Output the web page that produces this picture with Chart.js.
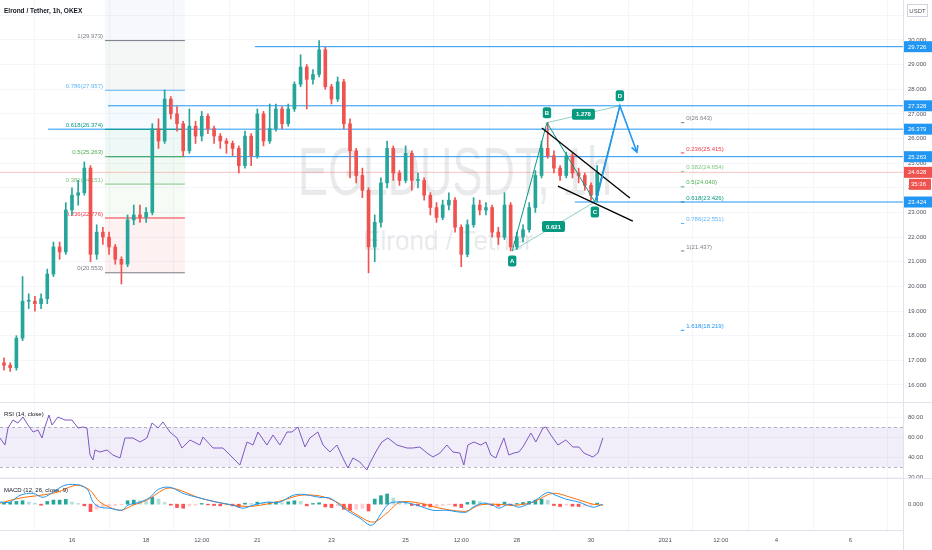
<!DOCTYPE html>
<html>
<head>
<meta charset="utf-8">
<script src="https://cdn.jsdelivr.net/npm/chart.js@4.4.1/dist/chart.umd.min.js"></script>
<style>
  html, body { margin: 0; padding: 0; background: #fff; }
  #wrap { width: 932px; height: 550px; }
</style>
</head>
<body>
<div id="wrap"><canvas id="chart" width="932" height="550"></canvas></div>
<script>
// time axis is in hours counted from 16 Dec 00:00
const tickHours = [0, 48, 84, 120, 168, 216, 252, 288, 336, 384, 420, 456, 504];
const tickLabels = ["16", "18", "12:00", "21", "23", "25", "12:00", "28", "30", "2021", "12:00", "4", "6"];

// 4h candles
const candleStart = -44;
const candleStep = 4;
const firstOpen = 16.9;
const closes = [16.8, 16.7, 17.9, 19.4, 19.4, 19.3, 19.5, 20.5, 21.6, 21.4,
  23.1, 23.7, 23.8, 24.8, 21.3, 22.2, 22.0, 21.6, 21.1, 20.9,
  22.7, 22.9, 22.8, 23.0, 26.4, 25.9, 27.6, 27.0, 26.6, 25.5,
  26.5, 26.1, 26.9, 26.4, 26.1, 25.9, 25.8, 25.6, 24.9, 26.1,
  25.3, 27.0, 25.9, 26.4, 27.2, 26.6, 27.2, 28.2, 28.9, 28.4,
  28.6, 29.6, 28.1, 27.6, 28.3, 26.6, 25.5, 24.5, 23.9, 21.6,
  22.6, 24.2, 25.6, 24.6, 24.3, 25.4, 24.3, 24.3, 23.7, 23.2,
  22.8, 23.3, 23.5, 22.4, 21.3, 22.5, 23.3, 23.1, 23.2, 22.2,
  22.0, 23.3, 21.6, 22.0, 22.3, 23.2, 24.5, 25.6, 25.3, 24.8,
  24.5, 25.3, 24.6, 24.5, 24.1, 23.7, 24.628];
const highs = [17.1, 16.9, 18.0, 20.4, 19.7, 19.6, 19.7, 20.7, 21.8, 21.8,
  23.4, 24.0, 24.3, 25.05, 24.9, 22.5, 22.4, 22.2, 21.7, 21.2,
  22.9, 23.3, 23.3, 23.2, 26.6, 26.8, 27.97, 27.7, 27.3, 26.7,
  27.2, 26.7, 27.1, 27.0, 26.5, 26.2, 26.0, 25.9, 25.7, 26.3,
  26.2, 27.2, 27.1, 27.4, 27.4, 27.3, 27.4, 28.3, 29.4, 29.0,
  28.8, 29.973, 29.7, 28.2, 28.5, 28.4, 26.8, 25.6, 24.8, 24.0,
  22.9, 24.4, 25.9, 25.7, 24.7, 25.7, 25.5, 24.6, 24.4, 23.8,
  23.4, 23.5, 23.8, 23.6, 22.5, 22.7, 23.6, 23.5, 23.4, 23.3,
  22.4, 23.8, 23.4, 22.2, 22.5, 23.4, 24.7, 25.9, 26.643, 25.5,
  24.9, 25.45, 25.4, 24.8, 24.6, 24.2, 24.9];
const lows = [16.6, 16.55, 16.6, 17.8, 19.1, 19.0, 19.1, 19.3, 20.4, 21.1,
  21.3, 22.9, 23.3, 23.7, 21.0, 21.1, 21.7, 21.3, 20.9, 20.1,
  20.8, 22.5, 22.6, 22.6, 22.9, 25.6, 25.8, 26.8, 26.3, 25.3,
  25.4, 25.8, 25.9, 26.2, 25.8, 25.6, 25.4, 25.3, 24.6, 24.8,
  24.9, 25.2, 25.7, 25.8, 26.3, 26.4, 26.5, 27.1, 28.1, 27.2,
  28.2, 28.5, 28.0, 27.4, 27.5, 26.4, 24.4, 24.2, 23.6, 20.55,
  21.0, 22.4, 24.0, 24.3, 24.1, 24.2, 23.9, 24.0, 23.5, 22.9,
  22.6, 22.7, 23.1, 22.2, 20.8, 21.2, 22.4, 22.9, 22.9, 22.0,
  21.7, 21.9, 21.44, 21.5, 21.8, 22.2, 23.0, 24.4, 25.2, 24.6,
  24.3, 24.4, 24.4, 24.2, 23.9, 23.5, 23.426];

// RSI (14, close)
const rsiHours = [-46.6, -43.4, -41.4, -38.2, -35.0, -31.7, -28.5, -25.2, -22.0, -19.4,
  -17.5, -14.9, -12.9, -9.1, -4.5, 0, 3.9, 7.1, 9.7, 11.7,
  13.6, 14.9, 18.1, 22.7, 26.5, 31.1, 34.3, 39.5, 44.0, 48.5,
  51.8, 55.7, 58.9, 63.4, 68.0, 71.2, 76.4, 82.8, 84.8, 91.3,
  97.7, 102.3, 108.7, 113.3, 117.2, 120.4, 126.2, 130.1, 134.6, 139.2,
  142.4, 146.3, 150.8, 154.0, 159.2, 162.5, 167.0, 171.5, 175.4, 178.6,
  181.9, 186.4, 190.9, 192.9, 197.4, 200.6, 204.5, 210.4, 216.8, 220.7,
  225.2, 229.8, 233.7, 238.2, 242.7, 246.6, 251.1, 253.7, 256.3, 260.2,
  264.7, 268.0, 271.2, 274.4, 276.4, 279.6, 282.8, 286.1, 289.3, 291.9,
  297.1, 300.3, 304.9, 306.8, 310.0, 314.6, 319.7, 324.3, 328.2, 331.4,
  337.2, 340.5, 343.7];
const rsiValues = [59, 52, 69, 77, 74, 80, 72, 65, 67, 59,
  70, 82, 72, 80, 77, 77, 69, 70, 69, 42,
  37, 47, 45, 47, 42, 39, 59, 59, 55, 59,
  74, 69, 75, 65, 59, 49, 57, 52, 60, 49,
  49, 42, 32, 55, 52, 65, 52, 62, 52, 65,
  65, 70, 50, 59, 65, 52, 45, 52, 39, 29,
  39, 35, 27, 34, 47, 55, 59, 52, 49, 49,
  50, 44, 40, 44, 52, 45, 44, 32, 52, 55,
  52, 55, 42, 39, 47, 59, 42, 44, 45, 50,
  64, 55, 69, 70, 62, 52, 57, 50, 50, 44,
  40, 44, 59];
const rsiBand = [70, 30];

// MACD (12, 26, close, 9)
const macdHours = [-46.6, -40.1, -33.7, -25.2, -18.8, -12.3, -4.5, 5.2, 10.4, 13.6,
  18.1, 24.6, 32.4, 36.2, 44.0, 50.5, 55.0, 60.2, 65.4, 71.8,
  82.8, 93.9, 104.2, 110.7, 117.2, 126.2, 134.6, 143.0, 149.5, 160.5,
  167.0, 173.5, 179.9, 186.4, 192.9, 196.1, 200.6, 205.8, 214.2, 223.3,
  233.7, 242.7, 255.0, 259.5, 266.0, 272.5, 276.4, 282.8, 289.3, 295.1,
  300.3, 308.1, 313.3, 319.7, 328.2, 337.2, 343.7];
const macdValues = [0.06, 0.06, 0.26, 0.32, 0.2, 0.35, 0.56, 0.56, 0.41, 0.06,
  -0.09, -0.12, -0.18, -0.03, 0.06, 0.2, 0.41, 0.5, 0.47, 0.32,
  0.18, 0.06, -0.03, -0.12, -0.03, 0.06, 0.06, 0.26, 0.29, 0.2,
  0.18, -0.03, -0.24, -0.41, -0.62, -0.56, -0.24, 0.03, 0.06, -0.03,
  -0.18, -0.18, -0.24, -0.09, 0.03, -0.03, -0.12, 0, -0.09, 0,
  0.12, 0.35, 0.26, 0.15, 0.06, -0.09, 0];
const signalHours = [-46.6, -33.7, -20.7, -9.7, 3.2, 11.7, 18.1, 31.1, 39.5, 48.5,
  61.5, 69.9, 82.8, 104.2, 117.2, 134.6, 147.6, 160.5, 171.5, 181.9,
  194.8, 203.9, 212.3, 225.2, 238.2, 255.0, 263.4, 272.5, 287.4, 298.4,
  311.3, 324.3, 337.2, 343.7];
const signalValues = [0.03, 0.18, 0.26, 0.35, 0.56, 0.41, 0.06, -0.18, -0.03, 0.12,
  0.47, 0.41, 0.18, -0.03, -0.06, 0.09, 0.26, 0.24, 0.06, -0.24,
  -0.53, -0.26, 0.06, 0.03, -0.12, -0.21, -0.03, 0, -0.03, 0.06,
  0.32, 0.18, 0, -0.03];
// histogram, one bar per candle
const histValues = [0.03, 0.05, 0.08, 0.1, 0.06, 0.03, -0.03, 0.08, 0.12, 0.12,
  0.14, 0.06, 0.02, -0.05, -0.22, -0.15, -0.08, -0.05, -0.04, -0.02,
  0.1, 0.12, 0.1, 0.08, 0.2, 0.15, 0.05, -0.03, -0.1, -0.12,
  -0.05, -0.03, 0.02, -0.02, -0.04, -0.05, -0.03, -0.05, -0.08, 0.03,
  0.02, 0.06, 0.04, 0.05, 0.06, 0.04, 0.07, 0.1, 0.08, -0.05,
  0.02, 0.04, -0.08, -0.1, -0.05, -0.15, -0.18, -0.15, -0.12, -0.2,
  0.15, 0.25, 0.3, 0.18, 0.08, 0.05, -0.04, -0.05, -0.06, -0.08,
  -0.07, -0.04, -0.02, -0.06, -0.1, 0.05, 0.1, 0.08, 0.04, -0.04,
  -0.06, 0.06, -0.04, 0.02, 0.05, 0.08, 0.12, 0.15, 0.12, -0.04,
  -0.07, -0.03, -0.06, -0.07, -0.05, -0.04, 0.03];

// drawings
const levelPrices = [29.726, 27.328, 26.379, 25.263, 23.424];
const levelStartHours = [118.4, 23.3, -15.5, 23.3, 325.6];
const lastPrice = 24.628;
const countdown = "35:36";

const fibLeftRatios = ["1", "0.786", "0.618", "0.5", "0.382", "0.236", "0"];
const fibLeftPrices = [29.973, 27.957, 26.374, 25.263, 24.151, 22.776, 20.553];
const fibLeftHours = [21.4, 73.1];

const fibRightRatios = ["0", "0.236", "0.382", "0.5", "0.618", "0.786", "1", "1.618"];
const fibRightPrices = [26.643, 25.415, 24.654, 24.040, 23.426, 22.551, 21.437, 18.219];
const fibRightHours = [394.2, 396.4];

const pointNames = ["A", "B", "C", "D"];
const pointHours = [285, 307.5, 338.5, 354.7];
const pointPrices = [21.437, 26.643, 23.426, 27.328];
const ratioLabels = ["0.621", "1.278"]; // A-C, B-D

const arrowHours = [339.5, 354.7, 365.7];
const arrowPrices = [23.5, 27.328, 25.45];

const wedgeUpperHours = [304.2, 361.2];
const wedgeUpperPrices = [26.43, 23.59];
const wedgeLowerHours = [314.6, 363.1];
const wedgeLowerPrices = [24.07, 22.65];

const title = "Elrond / Tether, 1h, OKEX";
const watermarkSymbol = "EGLDUSDT, 1h";
const watermarkName = "Elrond / Tether";

// styles
const X_MIN = -46.6, X_MAX = 538;
const UP = "#26a69a", DOWN = "#ef5350", BLUE = "#2196f3", TEAL = "#089981", TEXT = "#131722";
const FONT = "'Liberation Sans', Arial, sans-serif";
const GRID = "#f3f5fa", BORDER = "#e0e3eb";
const fibLeftColors = ["#787b86", "#64b5f6", "#089981", "#4caf50", "#81c784", "#f23645", "#787b86"];
const fibRightColors = ["#787b86", "#f23645", "#81c784", "#4caf50", "#089981", "#64b5f6", "#787b86", "#2196f3"];

function rgba(hex, a) {
  const n = parseInt(hex.slice(1), 16);
  return `rgba(${(n >> 16) & 255},${(n >> 8) & 255},${n & 255},${a})`;
}
const pts = (xs, ys) => xs.map((x, i) => ({ x, y: ys[i] }));

const hours = closes.map((_, i) => candleStart + i * candleStep);
const opens = closes.map((c, i) => (i === 0 ? firstOpen : closes[i - 1]));
const candleColors = closes.map((c, i) => (c >= opens[i] ? UP : DOWN));
const histColors = histValues.map((v, i) => {
  const prev = i > 0 ? histValues[i - 1] : 0;
  if (v >= 0) return v >= prev ? "#26a69a" : "#b2dfdb";
  return v <= prev ? "#ff5252" : "#ffcdd2";
});

function lineSet(data, color, width, order, axis, extra) {
  return Object.assign({
    type: "line", data, borderColor: color, borderWidth: width,
    pointRadius: 0, tension: 0, fill: false, order, yAxisID: axis || "yPrice",
  }, extra || {});
}

const datasets = [];
// horizontal levels
levelPrices.forEach((p, i) => {
  datasets.push(lineSet([{ x: levelStartHours[i], y: p }, { x: X_MAX, y: p }], BLUE, 1, 9));
});
datasets.push(lineSet([{ x: X_MIN, y: lastPrice }, { x: X_MAX, y: lastPrice }], "rgba(239,83,80,0.35)", 1, 9));
// left fib lines
fibLeftPrices.forEach((p, i) => {
  datasets.push(lineSet([{ x: fibLeftHours[0], y: p }, { x: fibLeftHours[1], y: p }], fibLeftColors[i], 1, 8));
});
// right fib ticks
fibRightPrices.forEach((p, i) => {
  datasets.push(lineSet([{ x: fibRightHours[0], y: p }, { x: fibRightHours[1], y: p }], fibRightColors[i], 1, 8));
});
// candles
datasets.push({
  type: "bar", data: hours.map((h, i) => ({ x: h, y: [lows[i], highs[i]] })),
  backgroundColor: candleColors, barThickness: 1, grouped: false, yAxisID: "yPrice", order: 6,
});
datasets.push({
  type: "bar", data: hours.map((h, i) => ({ x: h, y: [opens[i], closes[i]] })),
  backgroundColor: candleColors, barThickness: 3, minBarLength: 1, grouped: false, yAxisID: "yPrice", order: 5,
});
// ABCD pattern
datasets.push(lineSet(pts(pointHours, pointPrices), TEAL, 1, 3));
datasets.push(lineSet(pts([pointHours[0], pointHours[2]], [pointPrices[0], pointPrices[2]]), "rgba(8,153,129,0.45)", 1, 3));
datasets.push(lineSet(pts([pointHours[1], pointHours[3]], [pointPrices[1], pointPrices[3]]), "rgba(8,153,129,0.45)", 1, 3));
datasets.push(lineSet(pts(arrowHours, arrowPrices), BLUE, 1.6, 2));
datasets.push(lineSet(pts(wedgeUpperHours, wedgeUpperPrices), "#000000", 1.3, 2));
datasets.push(lineSet(pts(wedgeLowerHours, wedgeLowerPrices), "#000000", 1.3, 2));
// RSI
datasets.push(lineSet(pts(rsiHours, rsiValues), "#7e57c2", 1, 4, "yRsi"));
// MACD
datasets.push({
  type: "bar", data: hours.map((h, i) => ({ x: h, y: histValues[i] })),
  backgroundColor: histColors, barThickness: 3, grouped: false, yAxisID: "yMacd", order: 7,
});
datasets.push(lineSet(pts(signalHours, signalValues), "#ff6d00", 1, 4, "yMacd", { tension: 0.3 }));
datasets.push(lineSet(pts(macdHours, macdValues), "#2196f3", 1, 3, "yMacd", { tension: 0.3 }));

function fittedText(ctx, text, size, cx, baseY, width) {
  ctx.font = `${size}px ${FONT}`;
  const w = ctx.measureText(text).width;
  ctx.save();
  ctx.translate(cx, baseY);
  ctx.scale(width / w, 1);
  ctx.textAlign = "center";
  ctx.textBaseline = "alphabetic";
  ctx.fillText(text, 0, 0);
  ctx.restore();
}

function labelBox(ctx, text, cx, cy, color, padX) {
  ctx.font = `bold 6px ${FONT}`;
  const w = ctx.measureText(text).width + padX * 2;
  const h = 11;
  ctx.fillStyle = color;
  ctx.beginPath();
  ctx.roundRect(cx - w / 2, cy - h / 2, w, h, 2);
  ctx.fill();
  ctx.fillStyle = "#ffffff";
  ctx.textAlign = "center";
  ctx.textBaseline = "middle";
  ctx.fillText(text, cx, cy + 0.5);
}

const background = {
  id: "background",
  beforeDatasetsDraw(chart) {
    const { ctx, chartArea: a, scales: { x, yPrice, yRsi } } = chart;
    ctx.save();
    ctx.fillStyle = "rgba(120,123,134,0.16)";
    fittedText(ctx, watermarkSymbol, 68, 455, 195, 314);
    fittedText(ctx, watermarkName, 28, 448, 250, 170);

    // left fib zones
    const x0 = x.getPixelForValue(fibLeftHours[0]);
    const x1 = x.getPixelForValue(fibLeftHours[1]);
    ctx.fillStyle = "rgba(120,144,180,0.06)";
    ctx.fillRect(x0, a.top, x1 - x0, yPrice.getPixelForValue(fibLeftPrices[0]) - a.top);
    for (let i = 0; i < fibLeftPrices.length - 1; i++) {
      const ya = yPrice.getPixelForValue(fibLeftPrices[i]);
      const yb = yPrice.getPixelForValue(fibLeftPrices[i + 1]);
      ctx.fillStyle = rgba(fibLeftColors[i], 0.07);
      ctx.fillRect(x0, ya, x1 - x0, yb - ya);
    }
    ctx.font = `6px ${FONT}`;
    ctx.textAlign = "right";
    ctx.textBaseline = "bottom";
    fibLeftPrices.forEach((p, i) => {
      ctx.fillStyle = fibLeftColors[i];
      ctx.fillText(`${fibLeftRatios[i]}(${p.toFixed(3)})`, x0 - 2, yPrice.getPixelForValue(p) - 1);
    });
    ctx.textAlign = "left";
    const xr = x.getPixelForValue(fibRightHours[1]) + 2;
    fibRightPrices.forEach((p, i) => {
      ctx.fillStyle = fibRightColors[i];
      ctx.fillText(`${fibRightRatios[i]}(${p.toFixed(3)})`, xr, yPrice.getPixelForValue(p) - 1);
    });

    // RSI band
    const ya = yRsi.getPixelForValue(rsiBand[0]);
    const yb = yRsi.getPixelForValue(rsiBand[1]);
    ctx.fillStyle = "rgba(126,87,194,0.1)";
    ctx.fillRect(a.left, ya, a.right - a.left, yb - ya);
    ctx.strokeStyle = "rgba(120,123,134,0.55)";
    ctx.setLineDash([3, 3]);
    ctx.lineWidth = 1;
    [ya, yb].forEach((y) => {
      ctx.beginPath();
      ctx.moveTo(a.left, Math.round(y) + 0.5);
      ctx.lineTo(a.right, Math.round(y) + 0.5);
      ctx.stroke();
    });
    ctx.restore();
  },
};

const overlay = {
  id: "overlay",
  afterDatasetsDraw(chart) {
    const { ctx, scales: { x, yPrice } } = chart;
    ctx.save();
    const px = pointHours.map((h) => x.getPixelForValue(h));
    const py = pointPrices.map((p) => yPrice.getPixelForValue(p));
    // ratio boxes on the A-C and B-D legs
    labelBox(ctx, ratioLabels[0], (px[0] + px[2]) / 2, (py[0] + py[2]) / 2, TEAL, 4);
    labelBox(ctx, ratioLabels[1], (px[1] + px[3]) / 2, (py[1] + py[3]) / 2, TEAL, 4);
    pointNames.forEach((n, i) => {
      const below = i % 2 === 0;
      labelBox(ctx, n, px[i], py[i] + (below ? 10 : -10), TEAL, 2);
    });
    // arrow head
    const n = arrowHours.length;
    const ax = x.getPixelForValue(arrowHours[n - 1]);
    const ay = yPrice.getPixelForValue(arrowPrices[n - 1]);
    const bx = x.getPixelForValue(arrowHours[n - 2]);
    const by = yPrice.getPixelForValue(arrowPrices[n - 2]);
    const ang = Math.atan2(ay - by, ax - bx);
    ctx.strokeStyle = BLUE;
    ctx.lineWidth = 1.6;
    ctx.beginPath();
    ctx.moveTo(ax - 7 * Math.cos(ang - 0.5), ay - 7 * Math.sin(ang - 0.5));
    ctx.lineTo(ax, ay);
    ctx.lineTo(ax - 7 * Math.cos(ang + 0.5), ay - 7 * Math.sin(ang + 0.5));
    ctx.stroke();
    ctx.restore();
  },
  afterDraw(chart) {
    const { ctx, chartArea: a, scales: { yPrice, yRsi } } = chart;
    ctx.save();
    ctx.strokeStyle = BORDER;
    ctx.lineWidth = 1;
    [yPrice.bottom, yRsi.bottom].forEach((y) => {
      ctx.beginPath();
      ctx.moveTo(0, Math.round(y) + 0.5);
      ctx.lineTo(chart.width, Math.round(y) + 0.5);
      ctx.stroke();
    });
    ctx.beginPath();
    ctx.moveTo(Math.round(a.right) + 0.5, 0);
    ctx.lineTo(Math.round(a.right) + 0.5, chart.height);
    ctx.stroke();

    // price scale labels
    const boxX = a.right + 1;
    const boxW = chart.width - boxX;
    ctx.font = `6px ${FONT}`;
    ctx.textAlign = "left";
    ctx.textBaseline = "middle";
    const tag = (p, text, color, x0) => {
      const y = yPrice.getPixelForValue(p);
      ctx.fillStyle = color;
      ctx.fillRect(x0, y - 5.5, chart.width - x0, 11);
      ctx.fillStyle = "#ffffff";
      ctx.fillText(text, x0 + 4, y + 0.5);
    };
    levelPrices.forEach((p) => tag(p, p.toFixed(3), BLUE, boxX));
    tag(lastPrice, lastPrice.toFixed(3), "#ef5350", boxX);
    const cy = yPrice.getPixelForValue(lastPrice) + 12;
    ctx.fillStyle = "#ef5350";
    ctx.fillRect(boxX + 5, cy - 5.5, boxW - 6, 11);
    ctx.fillStyle = "#ffffff";
    ctx.fillText(countdown, boxX + 7, cy + 0.5);

    // currency box
    ctx.fillStyle = "#ffffff";
    ctx.fillRect(907.5, 4.5, 20, 12);
    ctx.strokeStyle = "#d1d4dc";
    ctx.strokeRect(907.5, 4.5, 20, 12);
    ctx.fillStyle = "#50535e";
    ctx.textAlign = "center";
    ctx.fillText("USDT", 917.5, 11);

    // pane titles
    ctx.textAlign = "left";
    ctx.fillStyle = TEXT;
    ctx.font = `bold 6.5px ${FONT}`;
    ctx.fillText(title, 4, 11);
    ctx.font = `6px ${FONT}`;
    ctx.fillText("RSI (14, close)", 4, yPrice.bottom + 12);
    ctx.fillText("MACD (12, 26, close, 9)", 4, yRsi.bottom + 12);
    ctx.restore();
  },
};

const tickFont = { family: FONT, size: 6 };
const fitY = (s) => { s.width = 29; s.paddingTop = 0; s.paddingBottom = 0; };
const fitX = (s) => { s.height = 20; s.paddingLeft = 0; s.paddingRight = 0; };

new Chart(document.getElementById("chart"), {
  type: "line",
  data: { datasets },
  options: {
    responsive: false,
    animation: false,
    events: [],
    layout: { padding: 0 },
    plugins: { legend: { display: false }, tooltip: { enabled: false } },
    scales: {
      x: {
        type: "linear", min: X_MIN, max: X_MAX, offset: false,
        grid: { color: GRID, drawTicks: false },
        border: { color: BORDER },
        afterBuildTicks: (s) => { s.ticks = tickHours.map((v) => ({ value: v })); },
        afterFit: fitX,
        ticks: {
          autoSkip: false, maxRotation: 0, padding: 7, font: tickFont, color: "#50535e",
          callback: (v) => tickLabels[tickHours.indexOf(v)],
        },
      },
      yPrice: {
        type: "linear", position: "right", stack: "panes", stackWeight: 402,
        min: 15.31, max: 31.62, offset: false,
        grid: { color: GRID, drawTicks: false },
        border: { color: BORDER },
        afterFit: fitY,
        ticks: {
          stepSize: 1, includeBounds: false, padding: 5, font: tickFont, color: "#50535e",
          callback: (v) => v.toFixed(3),
        },
      },
      yRsi: {
        type: "linear", position: "right", stack: "panes", stackWeight: 76,
        min: 19, max: 95, offset: false,
        grid: { color: GRID, drawTicks: false },
        border: { color: BORDER },
        afterFit: fitY,
        ticks: {
          stepSize: 20, includeBounds: false, padding: 5, font: tickFont, color: "#50535e",
          callback: (v) => v.toFixed(2),
        },
      },
      yMacd: {
        type: "linear", position: "right", stack: "panes", stackWeight: 52,
        min: -0.76, max: 0.77, offset: false,
        grid: { display: false, drawTicks: false },
        border: { color: BORDER },
        afterFit: fitY,
        afterBuildTicks: (s) => { s.ticks = [{ value: 0 }]; },
        ticks: { padding: 5, font: tickFont, color: "#50535e", callback: (v) => v.toFixed(3) },
      },
    },
  },
  plugins: [background, overlay],
});
</script>
</body>
</html>
